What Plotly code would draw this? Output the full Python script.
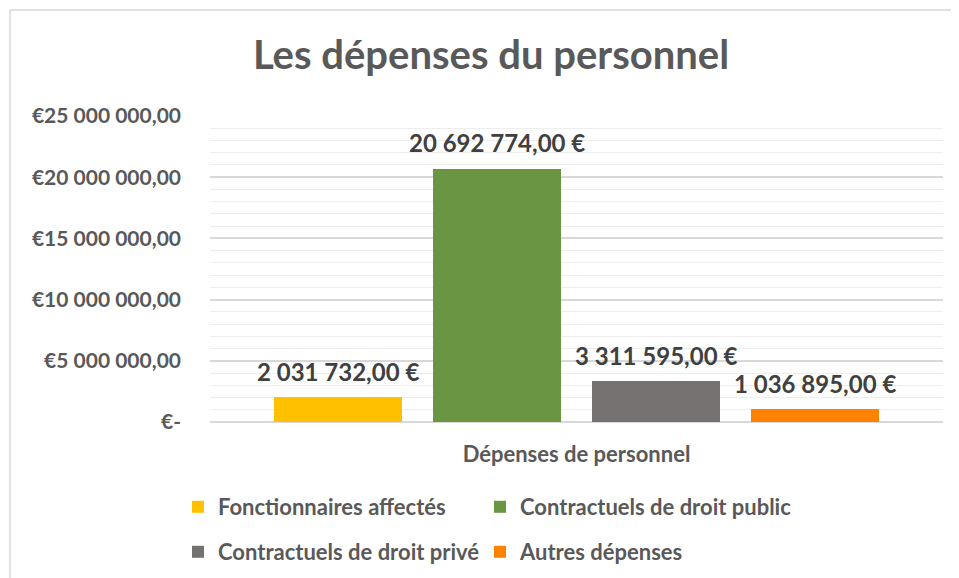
import plotly.graph_objects as go

# ---- data ----
series_names = ["Fonctionnaires affectés", "Contractuels de droit public",
                "Contractuels de droit privé", "Autres dépenses"]
series_values = [2031732.00, 20692774.00, 3311595.00, 1036895.00]
series_colors = ["#FFC000", "#6A9643", "#767171", "#FF8200"]
category_label = "Dépenses de personnel"
y_tick_values = [0, 5000000, 10000000, 15000000, 20000000, 25000000]
y_tick_labels = ["€-", "€5 000 000,00", "€10 000 000,00", "€15 000 000,00",
                 "€20 000 000,00", "€25 000 000,00"]
title_text = "Les dépenses du personnel"

FONT = "Lato"
TXT = "#595959"
LBL = "#404040"

def fmt_eur(v):
    s = f"{v:,.2f}".replace(",", " ").replace(".", ",")
    return s + " €"

# page body has an 8px margin; figure is sized to fill the rest of the window
OFF = 8
W, H = 959 - OFF, 578 - OFF
L = 210 - OFF
T = 116 - OFF
plot_right = 943 - OFF
plot_bottom = 422 - OFF
R = W - plot_right
B = H - plot_bottom
plot_w = W - L - R
plot_h = H - T - B

fig = go.Figure()
bar_w = 0.805
positions = list(range(len(series_values)))
legend_ids = ["legend", "legend2", "legend3", "legend4"]
for i, (name, val, col) in enumerate(zip(series_names, series_values, series_colors)):
    fig.add_trace(go.Bar(
        x=[positions[i]], y=[val], name=name, width=bar_w,
        marker=dict(color=col, line=dict(width=0)),
        legend=legend_ids[i], hoverinfo="skip",
    ))
    fig.add_annotation(
        x=positions[i], y=val, xref="x", yref="y", text=fmt_eur(val),
        showarrow=False, yanchor="middle", yshift=26,
        font=dict(family=FONT, size=24, color=LBL, weight="bold"),
    )

center = (positions[0] + positions[-1]) / 2
half_span = (plot_w / 159.0) / 2

legend_common = dict(
    orientation="h", xref="container", yref="container",
    xanchor="left", yanchor="middle",
    font=dict(family=FONT, size=22, color=TXT, weight="bold"),
    itemclick=False, itemdoubleclick=False,
    bgcolor="rgba(0,0,0,0)",
)
col_x = [178, 480]
row_y = [507, 552]

fig.update_layout(
    width=W, height=H,
    margin=dict(l=L, r=R, t=T, b=B),
    paper_bgcolor="white", plot_bgcolor="white",
    font=dict(family=FONT, color=TXT),
    title=dict(text=title_text, xref="container", yref="container",
               x=(491 - OFF) / W, y=1 - (55 - OFF) / H, xanchor="center", yanchor="middle",
               font=dict(family=FONT, size=40, color=TXT, weight="bold")),
    bargap=0, barmode="overlay",
    legend=dict(legend_common, x=(col_x[0] - OFF) / W, y=1 - (row_y[0] - OFF) / H),
    legend2=dict(legend_common, x=(col_x[1] - OFF) / W, y=1 - (row_y[0] - OFF) / H),
    legend3=dict(legend_common, x=(col_x[0] - OFF) / W, y=1 - (row_y[1] - OFF) / H),
    legend4=dict(legend_common, x=(col_x[1] - OFF) / W, y=1 - (row_y[1] - OFF) / H),
    showlegend=True,
)

fig.update_xaxes(
    range=[center - half_span, center + half_span],
    tickvals=[center], ticktext=[category_label],
    showgrid=False, zeroline=False, showline=False, ticks="",
    ticklabelstandoff=17,
    tickfont=dict(family=FONT, size=22, color=TXT, weight="bold"),
    fixedrange=True,
)
fig.update_yaxes(
    range=[0, 25000000],
    tickvals=y_tick_values, ticktext=y_tick_labels,
    showgrid=True, gridcolor="#D9D9D9", gridwidth=1.5,
    minor=dict(dtick=1000000, showgrid=True, gridcolor="#EDEDED", gridwidth=1.2, tick0=0),
    zeroline=True, zerolinecolor="#D9D9D9", zerolinewidth=2,
    showline=False, ticks="",
    ticklabelstandoff=28,
    tickfont=dict(family=FONT, size=21, color=TXT, weight="bold"),
    fixedrange=True,
)

# outer chart border (light frame)
fig.add_shape(type="rect", xref="paper", yref="paper",
              x0=(10 - OFF - L) / plot_w, x1=(W + 20 - L) / plot_w,
              y0=(plot_bottom - (H + 20)) / plot_h, y1=(plot_bottom - (10 - OFF)) / plot_h,
              line=dict(color="#D9D9D9", width=1.5), fillcolor="rgba(0,0,0,0)",
              layer="below")

fig.write_html("out.html", config={"displayModeBar": False})
